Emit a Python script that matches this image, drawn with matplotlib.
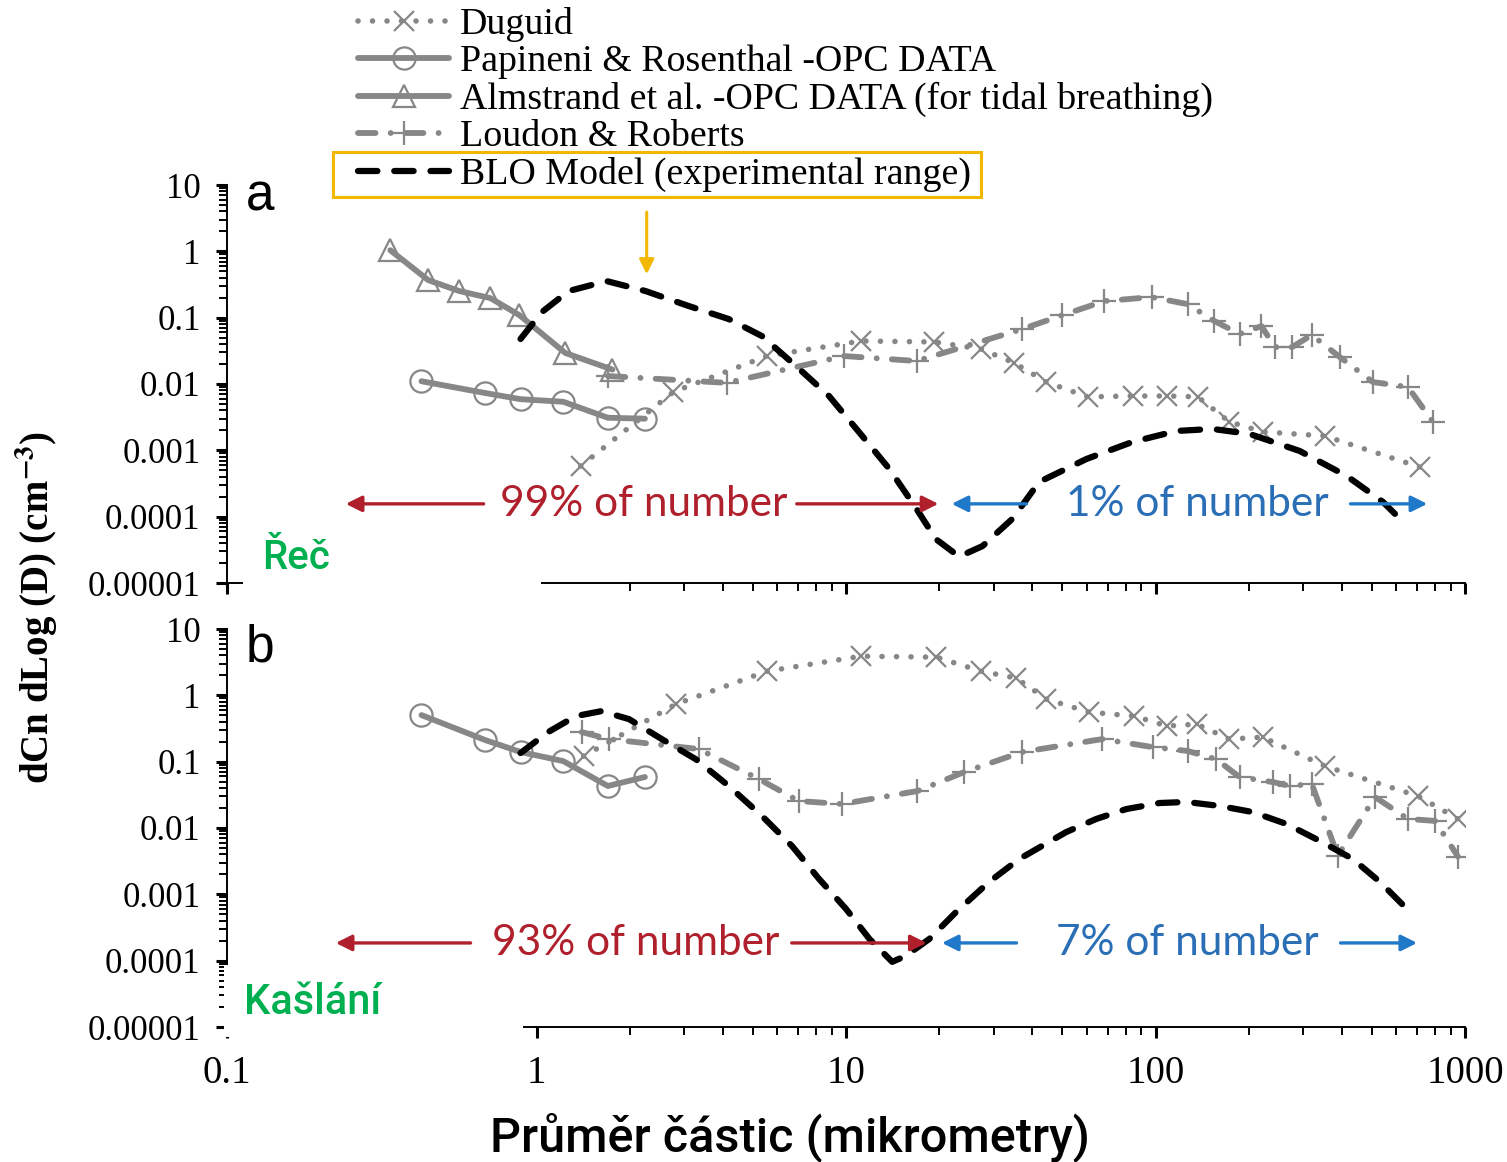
import matplotlib.pyplot as plt
from matplotlib.patches import Rectangle
from matplotlib.ticker import FixedLocator, FixedFormatter, LogLocator, NullFormatter

plt.rcParams['font.family'] = ['Liberation Serif', 'DejaVu Serif']
plt.rcParams['mathtext.fontset'] = 'stix'

# ---------------- data: panel a (speech) ----------------
duguid_a_x = [1.39, 2.77, 5.55, 11.2, 19.3, 27.3, 35.0, 44.4, 60.3, 84.3, 109, 137, 173, 222, 352, 714]
duguid_a_y = [0.00058, 0.0076, 0.0264, 0.0445, 0.043, 0.0337, 0.0207, 0.0107, 0.0064, 0.0066,
              0.0066, 0.0064, 0.0027, 0.0019, 0.00165, 0.00056]

papineni_a_x = [0.425, 0.684, 0.888, 1.22, 1.70, 2.24]
papineni_a_y = [0.011, 0.0073, 0.0059, 0.0054, 0.0031, 0.0030]

almstrand_a_x = [0.337, 0.447, 0.563, 0.710, 0.881, 1.24, 1.76]
almstrand_a_y = [1.04, 0.368, 0.252, 0.197, 0.109, 0.0293, 0.0165]

loudon_a_x = [1.70, 4.12, 9.86, 16.9, 37.1, 50.0, 68.4, 97.1, 127, 155, 187, 220, 243, 276, 320, 394, 504, 654, 788]
loudon_a_y = [0.0132, 0.0104, 0.0264, 0.0222, 0.0673, 0.109, 0.178, 0.204, 0.160, 0.0889, 0.0567,
              0.0747, 0.036, 0.036, 0.0547, 0.0255, 0.0107, 0.0090, 0.00268]

blo_a_x = [0.888, 1.04, 1.27, 1.685, 2.25, 3.10, 4.18, 5.35, 6.89, 8.81, 11.0, 13.8, 16.9, 19.5,
           23.2, 27.6, 34.5, 42.1, 59.8, 84.3, 117, 153, 201, 292, 415, 543, 649]
blo_a_y = [0.0477, 0.121, 0.252, 0.356, 0.252, 0.150, 0.0953, 0.0528, 0.0187, 0.0066, 0.0019,
           0.000525, 0.000131, 4.6e-5, 2.5e-5, 3.6e-5, 9.3e-5, 0.000334, 0.00074, 0.00134, 0.00196,
           0.0021, 0.00177, 0.00098, 0.00041, 0.000167, 7.3e-5]

# ---------------- data: panel b (cough) ----------------
duguid_b_x = [1.42, 2.82, 5.55, 11.2, 19.6, 27.3, 35.5, 44.4, 61.0, 85.5, 109, 136, 173, 222, 352, 705, 949]
duguid_b_y = [0.121, 0.736, 2.31, 3.89, 3.76, 2.31, 1.82, 0.877, 0.558, 0.486, 0.344, 0.368, 0.219,
              0.234, 0.0859, 0.0303, 0.0137]

papineni_b_x = [0.425, 0.684, 0.888, 1.22, 1.70, 2.24]
papineni_b_y = [0.504, 0.211, 0.140, 0.102, 0.043, 0.0587]

loudon_b_x = [1.40, 1.71, 3.34, 5.23, 7.04, 9.70, 17.0, 24.1, 37.1, 67.3, 97.8, 127, 157, 187, 239,
              272, 320, 388, 512, 654, 800, 949]
loudon_b_y = [0.279, 0.219, 0.155, 0.0547, 0.0255, 0.0230, 0.036, 0.0697, 0.140, 0.219, 0.166, 0.145,
              0.109, 0.0586, 0.0493, 0.043, 0.046, 0.0038, 0.0293, 0.0137, 0.0128, 0.0037]

blo_b_x = [0.888, 1.09, 1.34, 1.62, 1.99, 2.54, 3.27, 4.18, 5.35, 6.69, 8.18, 10.0, 11.9, 14.1, 15.6,
           18.6, 22.7, 29.0, 36.3, 51.5, 64.4, 80.5, 103, 126, 161, 206, 265, 340, 434, 531, 649]
blo_b_y = [0.135, 0.279, 0.486, 0.578, 0.438, 0.219, 0.109, 0.043, 0.0152, 0.00536, 0.00171, 0.000603,
           0.000213, 9.6e-5, 0.000118, 0.000213, 0.000543, 0.00154, 0.00341, 0.0087, 0.0137, 0.0193,
           0.0238, 0.0247, 0.0215, 0.0174, 0.0115, 0.00637, 0.00341, 0.00154, 0.000603]

labels = ['Duguid', 'Papineni & Rosenthal -OPC DATA',
          'Almstrand et al. -OPC DATA (for tidal breathing)', 'Loudon & Roberts',
          'BLO Model (experimental range)']
y_ticks = [1e-5, 1e-4, 1e-3, 1e-2, 1e-1, 1, 10]
y_tick_labels = ['0.00001', '0.0001', '0.001', '0.01', '0.1', '1', '10']
x_ticks = [0.1, 1, 10, 100, 1000]
x_tick_labels = ['0.1', '1', '10', '100', '1000']

GRAY = '#878787'
RED = '#b0202c'
BLUE = '#2a6fb5'
ARROW_BLUE = '#1f78c8'
GREEN = '#00b050'
YELLOW = '#f2b800'

W, H = 1507, 1162
fig = plt.figure(figsize=(W / 100, H / 100), dpi=100)

ax_a = fig.add_axes([227 / W, 1 - 583 / H, 1238 / W, 398 / H])
ax_b = fig.add_axes([227 / W, 1 - 1027 / H, 1238 / W, 398 / H])

dot_style = dict(color=GRAY, lw=4, linestyle=(0, (0.01, 2.6)), dash_capstyle='round',
                 marker='x', ms=15, mew=1.6)
solid_circle = dict(color=GRAY, lw=4.2, solid_capstyle='round', marker='o', ms=16,
                    mfc='none', mew=1.6)
solid_tri = dict(color=GRAY, lw=4.2, solid_capstyle='round', marker='^', ms=16,
                 mfc='none', mew=1.6)
dashdot_style = dict(color=GRAY, lw=4.2, linestyle=(0, (3, 2.6, 0.01, 2.6)), dash_capstyle='round',
                     marker='+', ms=17, mew=1.6)
blo_style = dict(color='black', lw=4.5, linestyle=(0, (3.1, 2.7)), dash_capstyle='round')

ax_a.plot(duguid_a_x, duguid_a_y, label=labels[0], **dot_style)
ax_a.plot(papineni_a_x, papineni_a_y, label=labels[1], **solid_circle)
ax_a.plot(almstrand_a_x, almstrand_a_y, label=labels[2], **solid_tri)
ax_a.plot(loudon_a_x, loudon_a_y, label=labels[3], **dashdot_style)
ax_a.plot(blo_a_x, blo_a_y, label=labels[4], **blo_style)

ax_b.plot(duguid_b_x, duguid_b_y, **dot_style)
ax_b.plot(papineni_b_x, papineni_b_y, **solid_circle)
ax_b.plot(loudon_b_x, loudon_b_y, **dashdot_style)
ax_b.plot(blo_b_x, blo_b_y, **blo_style)

for ax in (ax_a, ax_b):
    ax.set_xscale('log')
    ax.set_yscale('log')
    ax.set_xlim(0.1, 1000)
    ax.set_ylim(1e-5, 10)
    ax.spines['top'].set_visible(False)
    ax.spines['right'].set_visible(False)
    for s in ('left', 'bottom'):
        ax.spines[s].set_linewidth(1.4)
    ax.yaxis.set_major_locator(FixedLocator(y_ticks))
    ax.yaxis.set_major_formatter(FixedFormatter(y_tick_labels))
    ax.yaxis.set_minor_locator(LogLocator(base=10, subs=range(2, 10), numticks=20))
    ax.yaxis.set_minor_formatter(NullFormatter())
    ax.xaxis.set_major_locator(FixedLocator(x_ticks))
    ax.xaxis.set_major_formatter(FixedFormatter(x_tick_labels))
    ax.xaxis.set_minor_locator(LogLocator(base=10, subs=range(2, 10), numticks=20))
    ax.xaxis.set_minor_formatter(NullFormatter())
    ax.tick_params(which='major', direction='out', length=8, width=2.2, labelsize=25)
    ax.tick_params(which='minor', direction='out', length=6, width=1.4)
    ax.tick_params(axis='y', which='major', pad=11)
    ax.tick_params(axis='x', which='major', pad=12, labelsize=28)
    ax.patch.set_visible(False)

ax_a.tick_params(axis='x', labelbottom=False)


def share_arrows(ax, y, red_left, red_text, red_right, blue_left, blue_text, blue_right, red_label, blue_label):
    ap_r = dict(arrowstyle='-|>', color=RED, lw=2.4, mutation_scale=24)
    ap_b = dict(arrowstyle='-|>', color=ARROW_BLUE, lw=2.4, mutation_scale=24)
    ax.annotate('', xy=(red_left[1], y), xytext=(red_left[0], y), arrowprops=ap_r)
    ax.annotate('', xy=(red_right[1], y), xytext=(red_right[0], y), arrowprops=ap_r)
    ax.annotate('', xy=(blue_left[1], y), xytext=(blue_left[0], y), arrowprops=ap_b)
    ax.annotate('', xy=(blue_right[1], y), xytext=(blue_right[0], y), arrowprops=ap_b)
    ax.text(red_text, y, red_label, ha='center', va='center', color=RED, fontsize=30.5,
            family='Lato', bbox=dict(fc='white', ec='none', pad=1))
    ax.text(blue_text, y, blue_label, ha='center', va='center', color=BLUE, fontsize=30.5,
            family='Lato', bbox=dict(fc='white', ec='none', pad=1))


share_arrows(ax_a, 1.56e-4, (0.689, 0.237), 2.22, (6.79, 20.3), (39.1, 21.5), 136, (418, 771),
             '99% of number', '1% of number')
share_arrows(ax_b, 1.85e-4, (0.625, 0.220), 2.09, (6.54, 18.6), (36.3, 20.0), 127, (388, 715),
             '93% of number', '7% of number')

# yellow pointer to the model curve
ax_a.annotate('', xy=(2.27, 0.41), xytext=(2.27, 4.3), annotation_clip=False,
              arrowprops=dict(arrowstyle='-|>', color=YELLOW, lw=2.2, mutation_scale=22))

# panel letters
fig.text(260 / W, 1 - 197 / H, 'a', ha='center', va='center', fontsize=37, family='Liberation Sans')
fig.text(260 / W, 1 - 648 / H, 'b', ha='center', va='center', fontsize=37, family='Liberation Sans')

# axis titles
fig.text(37 / W, 1 - 607 / H, r'dCn dLog (D) (cm$^{\mathbf{-3}}$)', rotation=90, ha='center',
         va='center', fontsize=28, fontweight='bold')
fig.text(790 / W, 1 - 1137 / H, 'Průměr částic (mikrometry)', ha='center', va='center',
         fontsize=35, family='Roboto', fontweight='medium')

# white patches with the panel names in the lower left corners
fig.add_artist(Rectangle((243 / W, 1 - 600 / H), (541 - 243) / W, 62 / H, transform=fig.transFigure,
                         fc='white', ec='none', zorder=5))
fig.add_artist(Rectangle((224 / W, 1 - 1037 / H), (523 - 224) / W, 72 / H, transform=fig.transFigure,
                         fc='white', ec='none', zorder=5))
fig.text(296 / W, 1 - 558 / H, 'Řeč', ha='center', va='center', color=GREEN, fontsize=29,
         family='Roboto', fontweight='medium', zorder=6)
fig.text(313 / W, 1 - 1003 / H, 'Kašlání', ha='center', va='center', color=GREEN, fontsize=30,
         family='Roboto', fontweight='medium', zorder=6)

# legend at the top
handles, hl = ax_a.get_legend_handles_labels()
leg = fig.legend(handles, hl, loc='upper left', bbox_to_anchor=(358 / W, 1 - 7 / H),
                 bbox_transform=fig.transFigure, frameon=False, prop={'size': 27.3},
                 handlelength=2.4, handletextpad=0.3, labelspacing=0.07, borderpad=0,
                 borderaxespad=0, numpoints=1)

fig.canvas.draw()
r = fig.canvas.get_renderer()
tb = leg.get_texts()[4].get_window_extent(r)
cy = (tb.y0 + tb.y1) / 2
fig.add_artist(Rectangle(((358 - 25) / W, (cy - 22) / H), (tb.x1 + 10 - 333) / W, 45 / H,
                         transform=fig.transFigure, fc='none', ec=YELLOW, lw=2.2, zorder=4))

fig.savefig('out.png', dpi=100)
